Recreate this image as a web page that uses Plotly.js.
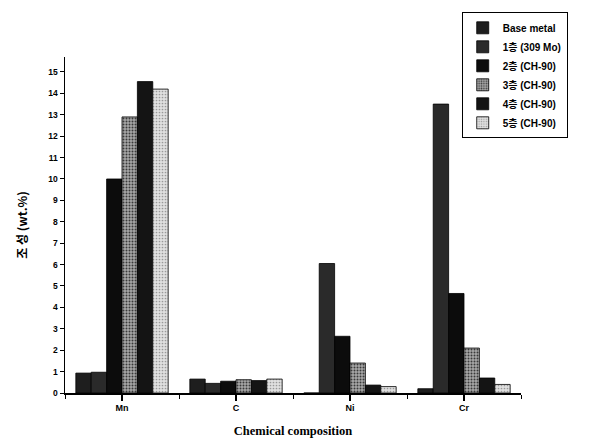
<!DOCTYPE html>
<html>
<head>
<meta charset="utf-8">
<script src="https://cdn.plot.ly/plotly-3.0.1.min.js"></script>
<style>html,body{margin:0;padding:0;background:#fff;}#chart{width:593px;height:445px;}</style>
</head>
<body>
<div id="chart"></div>
<script>
const categories = ["Mn", "C", "Ni", "Cr"];
const seriesNames = ["Base metal", "1층 (309 Mo)", "2층 (CH-90)", "3층 (CH-90)", "4층 (CH-90)", "5층 (CH-90)"];
const baseMetal = [0.93, 0.65, 0.0, 0.2];
const layer1 = [0.97, 0.45, 6.05, 13.5];
const layer2 = [10.0, 0.55, 2.65, 4.65];
const layer3 = [12.9, 0.62, 1.4, 2.1];
const layer4 = [14.55, 0.58, 0.37, 0.7];
const layer5 = [14.2, 0.65, 0.3, 0.4];
const yTicks = [0,1,2,3,4,5,6,7,8,9,10,11,12,13,14,15];

const seriesValues = [baseMetal, layer1, layer2, layer3, layer4, layer5];
const styles = [
  {color: "#1e1e1e"},
  {color: "#2a2a2a"},
  {color: "#0c0c0c"},
  {color: "#8c8c8c", pattern: {shape: ".", bgcolor: "#a8a8a8", fgcolor: "#3a3a3a", size: 3, solidity: 0.35}},
  {color: "#141414"},
  {color: "#d4d4d4", pattern: {shape: ".", bgcolor: "#e0e0e0", fgcolor: "#999", size: 3, solidity: 0.25}}
];
const xIdx = categories.map((c, i) => i);

const traces = seriesValues.map((vals, k) => ({
  type: "bar",
  name: seriesNames[k],
  x: xIdx,
  y: vals,
  marker: Object.assign({line: {color: "#000", width: 0.8}}, styles[k])
}));

const layout = {
  width: 593, height: 445,
  margin: {l: 65, r: 72, t: 55, b: 52},
  paper_bgcolor: "#fff", plot_bgcolor: "#fff",
  barmode: "group", bargap: 0.19, bargroupgap: 0,
  showlegend: true,
  legend: {
    x: 0.87, y: 1.133, xanchor: "left", yanchor: "top",
    bordercolor: "#000", borderwidth: 1, bgcolor: "#fff",
    font: {family: "Liberation Sans, Noto Sans CJK KR", size: 10, color: "#000", weight: "bold"},
    tracegroupgap: 0, itemwidth: 30
  },
  xaxis: {
    range: [-0.5, 3.5],
    tickvals: xIdx, ticktext: categories,
    ticks: "outside", ticklen: 6, tickwidth: 1.2, tickcolor: "#000",
    minor: {tick0: 0.5, dtick: 1, ticks: "outside", ticklen: 4, tickcolor: "#000", tickwidth: 1},
    showline: true, linecolor: "#000", linewidth: 1.5,
    showgrid: false, zeroline: false,
    tickfont: {family: "Liberation Sans", size: 9, color: "#000", weight: "bold"},
    title: {text: "Chemical composition", font: {family: "Liberation Serif", size: 12.5, color: "#000", weight: "bold"}, standoff: 14}
  },
  yaxis: {
    range: [0, 15.7],
    tickvals: yTicks,
    ticks: "outside", ticklen: 4, tickwidth: 1, tickcolor: "#000",
    showline: true, linecolor: "#000", linewidth: 1.5,
    showgrid: false, zeroline: false,
    tickfont: {family: "Liberation Sans", size: 8.5, color: "#000", weight: "bold"},
    title: {text: "조 성 (wt.%)", font: {family: "Noto Sans CJK KR", size: 12, color: "#000", weight: "bold"}, standoff: 18}
  }
};

Plotly.newPlot("chart", traces, layout, {displayModeBar: false, staticPlot: true});
</script>
</body>
</html>
